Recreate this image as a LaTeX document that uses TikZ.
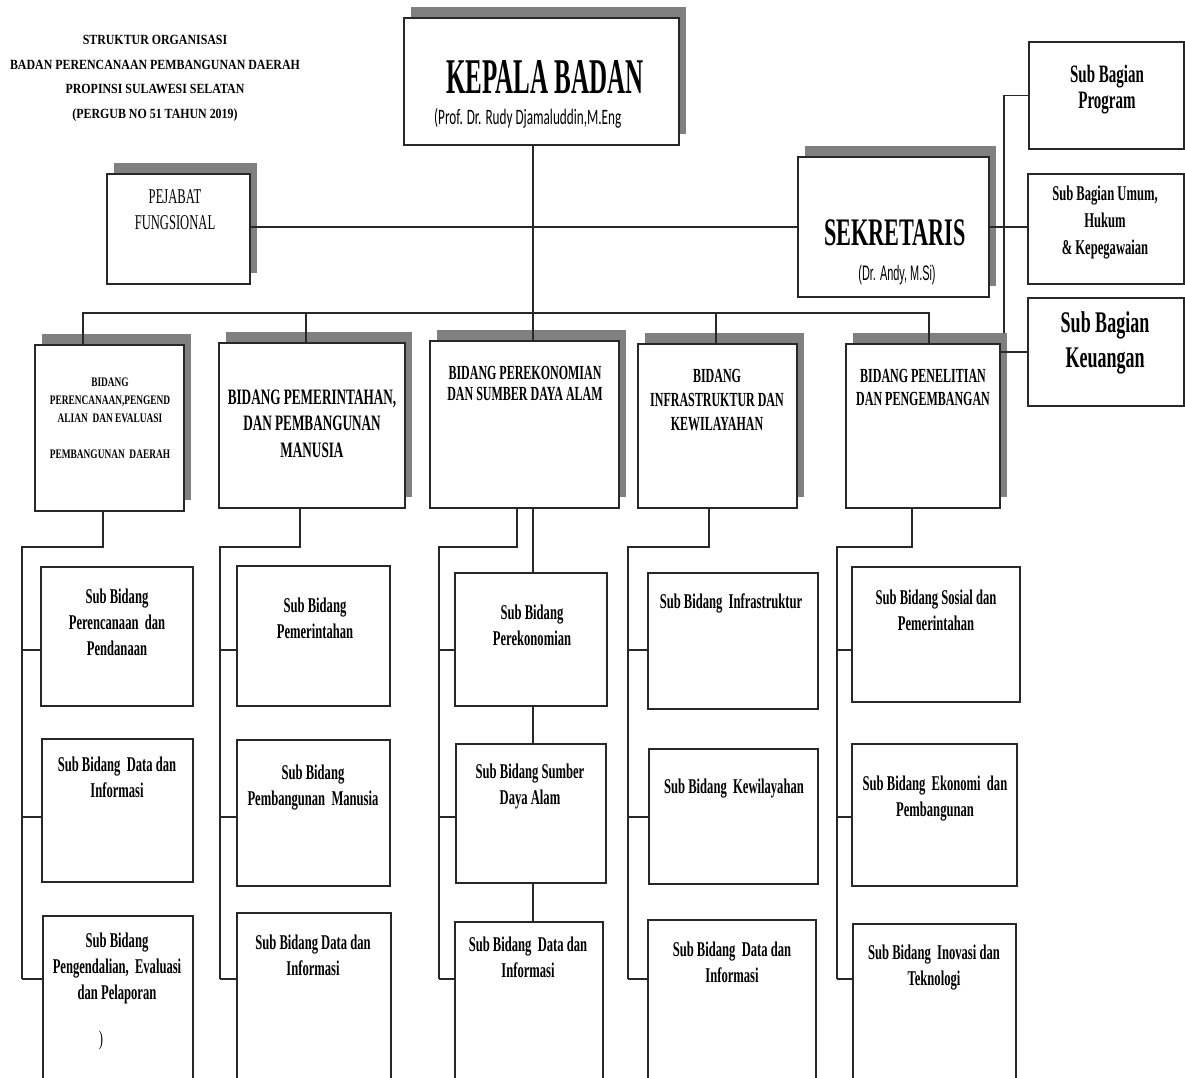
\documentclass[tikz,border=0pt]{standalone}
\usepackage{fontspec}
\setmainfont{Liberation Serif}
\newfontfamily\narrowrm[FakeStretch=0.6]{Liberation Serif}
\newfontfamily\narrowhead[FakeStretch=0.5]{Liberation Serif}
\newfontfamily\narrowsek[FakeStretch=0.57]{Liberation Serif}
\newfontfamily\midrm[FakeStretch=0.72]{Liberation Serif}
\newfontfamily\widerm[FakeStretch=0.85]{Liberation Serif}
\newfontfamily\narrowsf[FakeStretch=0.52]{Liberation Sans}
\newfontfamily\narrowcal[FakeStretch=0.6]{Carlito}
\usetikzlibrary{shadows,calc}

\definecolor{shadowgray}{RGB}{128,128,128}
\definecolor{linegray}{RGB}{40,40,40}

\tikzset{
  box/.style={draw=linegray, line width=1.6pt, fill=white, inner sep=0pt},
  sz/.style 2 args={minimum width=#1, minimum height=#2},
  shadowed/.style={drop shadow={shadow xshift=7pt, shadow yshift=11pt, fill=shadowgray, opacity=1}},
  link/.style={draw=linegray, line width=1.2pt},
  txt/.style={align=center, inner sep=0pt},
  subtxt/.style={txt, font=\narrowrm\bfseries\fontsize{21}{26}\selectfont},
}

\begin{document}
\begin{tikzpicture}[x=1pt, y=-1pt]

	% Page frame
	\useasboundingbox (0,0) rectangle (1185,1078);
	\fill[white] (0,0) rectangle (1185,1078);
	\clip (0,0) rectangle (1185,1078);

	% Title
	\node[txt, font=\widerm\bfseries\fontsize{14}{24.5}\selectfont] (title) at (155,78.5)
		{STRUKTUR ORGANISASI\\BADAN PERENCANAAN PEMBANGUNAN DAERAH\\PROPINSI SULAWESI SELATAN\\(PERGUB NO 51 TAHUN 2019)};

	% Top level
	\node[box, shadowed, sz={275}{127}] (kepala) at (541.5,81.5) {};
	\node[txt, font=\narrowhead\bfseries\fontsize{50}{50}\selectfont] (kepalaname) at (545,77) {KEPALA BADAN};
	\node[txt, anchor=west, font=\narrowcal\fontsize{22}{22}\selectfont] (kepalasub) at (434,118) {(Prof. Dr. Rudy Djamaluddin,M.Eng};

	\node[box, shadowed, sz={143}{110}] (pejabat) at (178.5,229) {};
	\node[txt, font=\narrowrm\fontsize{21}{26}\selectfont] (pejabattxt) at (175,210) {PEJABAT\\FUNGSIONAL};

	\node[box, shadowed, sz={191}{140}] (sekretaris) at (893.5,227) {};
	\node[txt, font=\narrowsek\bfseries\fontsize{39}{39}\selectfont] (sekname) at (895,233) {SEKRETARIS};
	\node[txt, font=\narrowsf\fontsize{21}{21}\selectfont] (sekdr) at (897,275) {(Dr. Andy, M.Si)};

	% Sub Bagian
	\node[box, sz={155}{107}] (program) at (1106.5,95.5) {};
	\node[txt, font=\narrowrm\bfseries\fontsize{25}{26}\selectfont] (programtxt) at (1107,90) {Sub Bagian\\Program};
	\node[box, sz={156}{110}] (umum) at (1106,229) {};
	\node[txt, font=\narrowrm\bfseries\fontsize{21}{27}\selectfont] (umumtxt) at (1105,223) {Sub Bagian Umum,\\Hukum\\\& Kepegawaian};
	\node[box, sz={156}{108}] (keuangan) at (1106,352) {};
	\node[txt, font=\narrowrm\bfseries\fontsize{30}{35}\selectfont] (keuangantxt) at (1105,342.5) {Sub Bagian\\Keuangan};

	% Bidang
	\node[box, shadowed, sz={149}{166}] (b1) at (109.5,428) {};
	\node[txt, font=\midrm\bfseries\fontsize{13}{18}\selectfont] (b1txt) at (110,418)
		{BIDANG\\PERENCANAAN,PENGEND\\ALIAN\ \ DAN EVALUASI\\[18pt]PEMBANGUNAN\ \ DAERAH};
	\node[box, shadowed, sz={186}{165}] (b2) at (312,425.5) {};
	\node[txt, font=\narrowrm\bfseries\fontsize{22}{26.5}\selectfont] (b2txt) at (312,423.5)
		{BIDANG PEMERINTAHAN,\\DAN PEMBANGUNAN\\MANUSIA};
	\node[box, shadowed, sz={189}{167}] (b3) at (524.5,424.5) {};
	\node[txt, font=\narrowrm\bfseries\fontsize{20}{21}\selectfont] (b3txt) at (525,383.5)
		{BIDANG PEREKONOMIAN\\DAN SUMBER DAYA ALAM};
	\node[box, shadowed, sz={159}{164}] (b4) at (717.5,426) {};
	\node[txt, font=\narrowrm\bfseries\fontsize{20}{24}\selectfont] (b4txt) at (717,400)
		{BIDANG\\INFRASTRUKTUR DAN\\KEWILAYAHAN};
	\node[box, shadowed, sz={154}{164}] (b5) at (923,426) {};
	\node[txt, font=\narrowrm\bfseries\fontsize{20}{23}\selectfont] (b5txt) at (923,387.5)
		{BIDANG PENELITIAN\\DAN PENGEMBANGAN};

	% Sub Bidang, column 1
	\node[box, sz={152}{139}] (s11) at (117,636.5) {};
	\node[subtxt] (s11txt) at (117,622) {Sub Bidang\\Perencanaan\ \ dan\\Pendanaan};
	\node[box, sz={151}{143}] (s12) at (117.5,810.5) {};
	\node[subtxt] (s12txt) at (117,777.5) {Sub Bidang\ \ Data dan\\Informasi};
	\node[box, sz={150}{174}] (s13) at (118,1003) {};
	\node[subtxt] (s13txt) at (117,968) {Sub Bidang\\Pengendalian,\ \ Evaluasi\\dan Pelaporan};
	\node[txt, font=\narrowrm\fontsize{21}{21}\selectfont] (s13mark) at (101,1040) {)};

	% Sub Bidang, column 2
	\node[box, sz={153}{140}] (s21) at (313.5,636) {};
	\node[subtxt] (s21txt) at (315,618) {Sub Bidang\\Pemerintahan};
	\node[box, sz={153}{146}] (s22) at (313.5,813) {};
	\node[subtxt] (s22txt) at (313,788) {Sub Bidang\\Pembangunan\ \ Manusia};
	\node[box, sz={154}{177}] (s23) at (314,1001.5) {};
	\node[subtxt] (s23txt) at (313,955) {Sub Bidang Data dan\\Informasi};

	% Sub Bidang, column 3
	\node[box, sz={152}{133}] (s31) at (531,639.5) {};
	\node[subtxt] (s31txt) at (532,625.5) {Sub Bidang\\Perekonomian};
	\node[box, sz={150}{139}] (s32) at (531,813.5) {};
	\node[subtxt] (s32txt) at (530,786.5) {Sub Bidang Sumber\\Daya Alam};
	\node[box, sz={148}{168}] (s33) at (529,1006) {};
	\node[subtxt] (s33txt) at (528,957) {Sub Bidang\ \ Data dan\\Informasi};

	% Sub Bidang, column 4
	\node[box, sz={170}{136}] (s41) at (733,641) {};
	\node[subtxt] (s41txt) at (731,603) {Sub Bidang\ \ Infrastruktur};
	\node[box, sz={169}{135}] (s42) at (733.5,816.5) {};
	\node[subtxt] (s42txt) at (734,789) {Sub Bidang\ \ Kewilayahan};
	\node[box, sz={168}{170}] (s43) at (732,1005) {};
	\node[subtxt] (s43txt) at (732,962.5) {Sub Bidang\ \ Data dan\\Informasi};

	% Sub Bidang, column 5
	\node[box, sz={168}{135}] (s51) at (936,634.5) {};
	\node[subtxt] (s51txt) at (936,610) {Sub Bidang Sosial dan\\Pemerintahan};
	\node[box, sz={165}{142}] (s52) at (934.5,815) {};
	\node[subtxt] (s52txt) at (935,799) {Sub Bidang\ \ Ekonomi\ \ dan\\Pembangunan};
	\node[box, sz={163}{166}] (s53) at (934.5,1007) {};
	\node[subtxt] (s53txt) at (934,967.5) {Sub Bidang\ \ Inovasi dan\\Teknologi};

	% Connector points
	\coordinate (spine) at (533,313);
	\coordinate (busl) at (83,313);
	\coordinate (busr) at (929,313);
	\coordinate (d2) at (306,313);
	\coordinate (d4) at (716,313);
	\coordinate (sekv) at (1004,333);

	% Connectors at the top
	\draw[link] (kepala.south -| spine) -- (b3.north -| spine);
	\draw[link] (pejabat.east |- sekretaris.west) -- (sekretaris.west);
	\draw[link] (b1.north -| busl) -- (busl) -- (busr) -- (b5.north -| busr);
	\draw[link] (d2) -- (b2.north -| d2);
	\draw[link] (d4) -- (b4.north -| d4);
	\draw[link] (program.west) -- (program.west -| sekv) -- (sekv);
	\draw[link] (sekretaris.east) -- (sekretaris.east -| umum.west);
	\draw[link] (b5.east |- keuangan.west) -- (keuangan.west);

	% Connectors below the Bidang
	\foreach \c/\dx/\tx in {1/103/22,2/300/220,3/517/439,4/709/628,5/912/837}{
		\draw[link] (b\c.south -| \dx,0) -- (\dx,547) -- (\tx,547) -- (\tx,979);
		\foreach \r/\ry in {1/650,2/817,3/979}
			\draw[link] (\tx,\ry) -- (s\c\r.west |- 0,\ry);
	}
	\draw[link] (b3.south -| spine) -- (s31.north -| spine);
	\draw[link] (s31.south -| spine) -- (s32.north -| spine);
	\draw[link] (s32.south -| spine) -- (s33.north -| spine);

\end{tikzpicture}
\end{document}
